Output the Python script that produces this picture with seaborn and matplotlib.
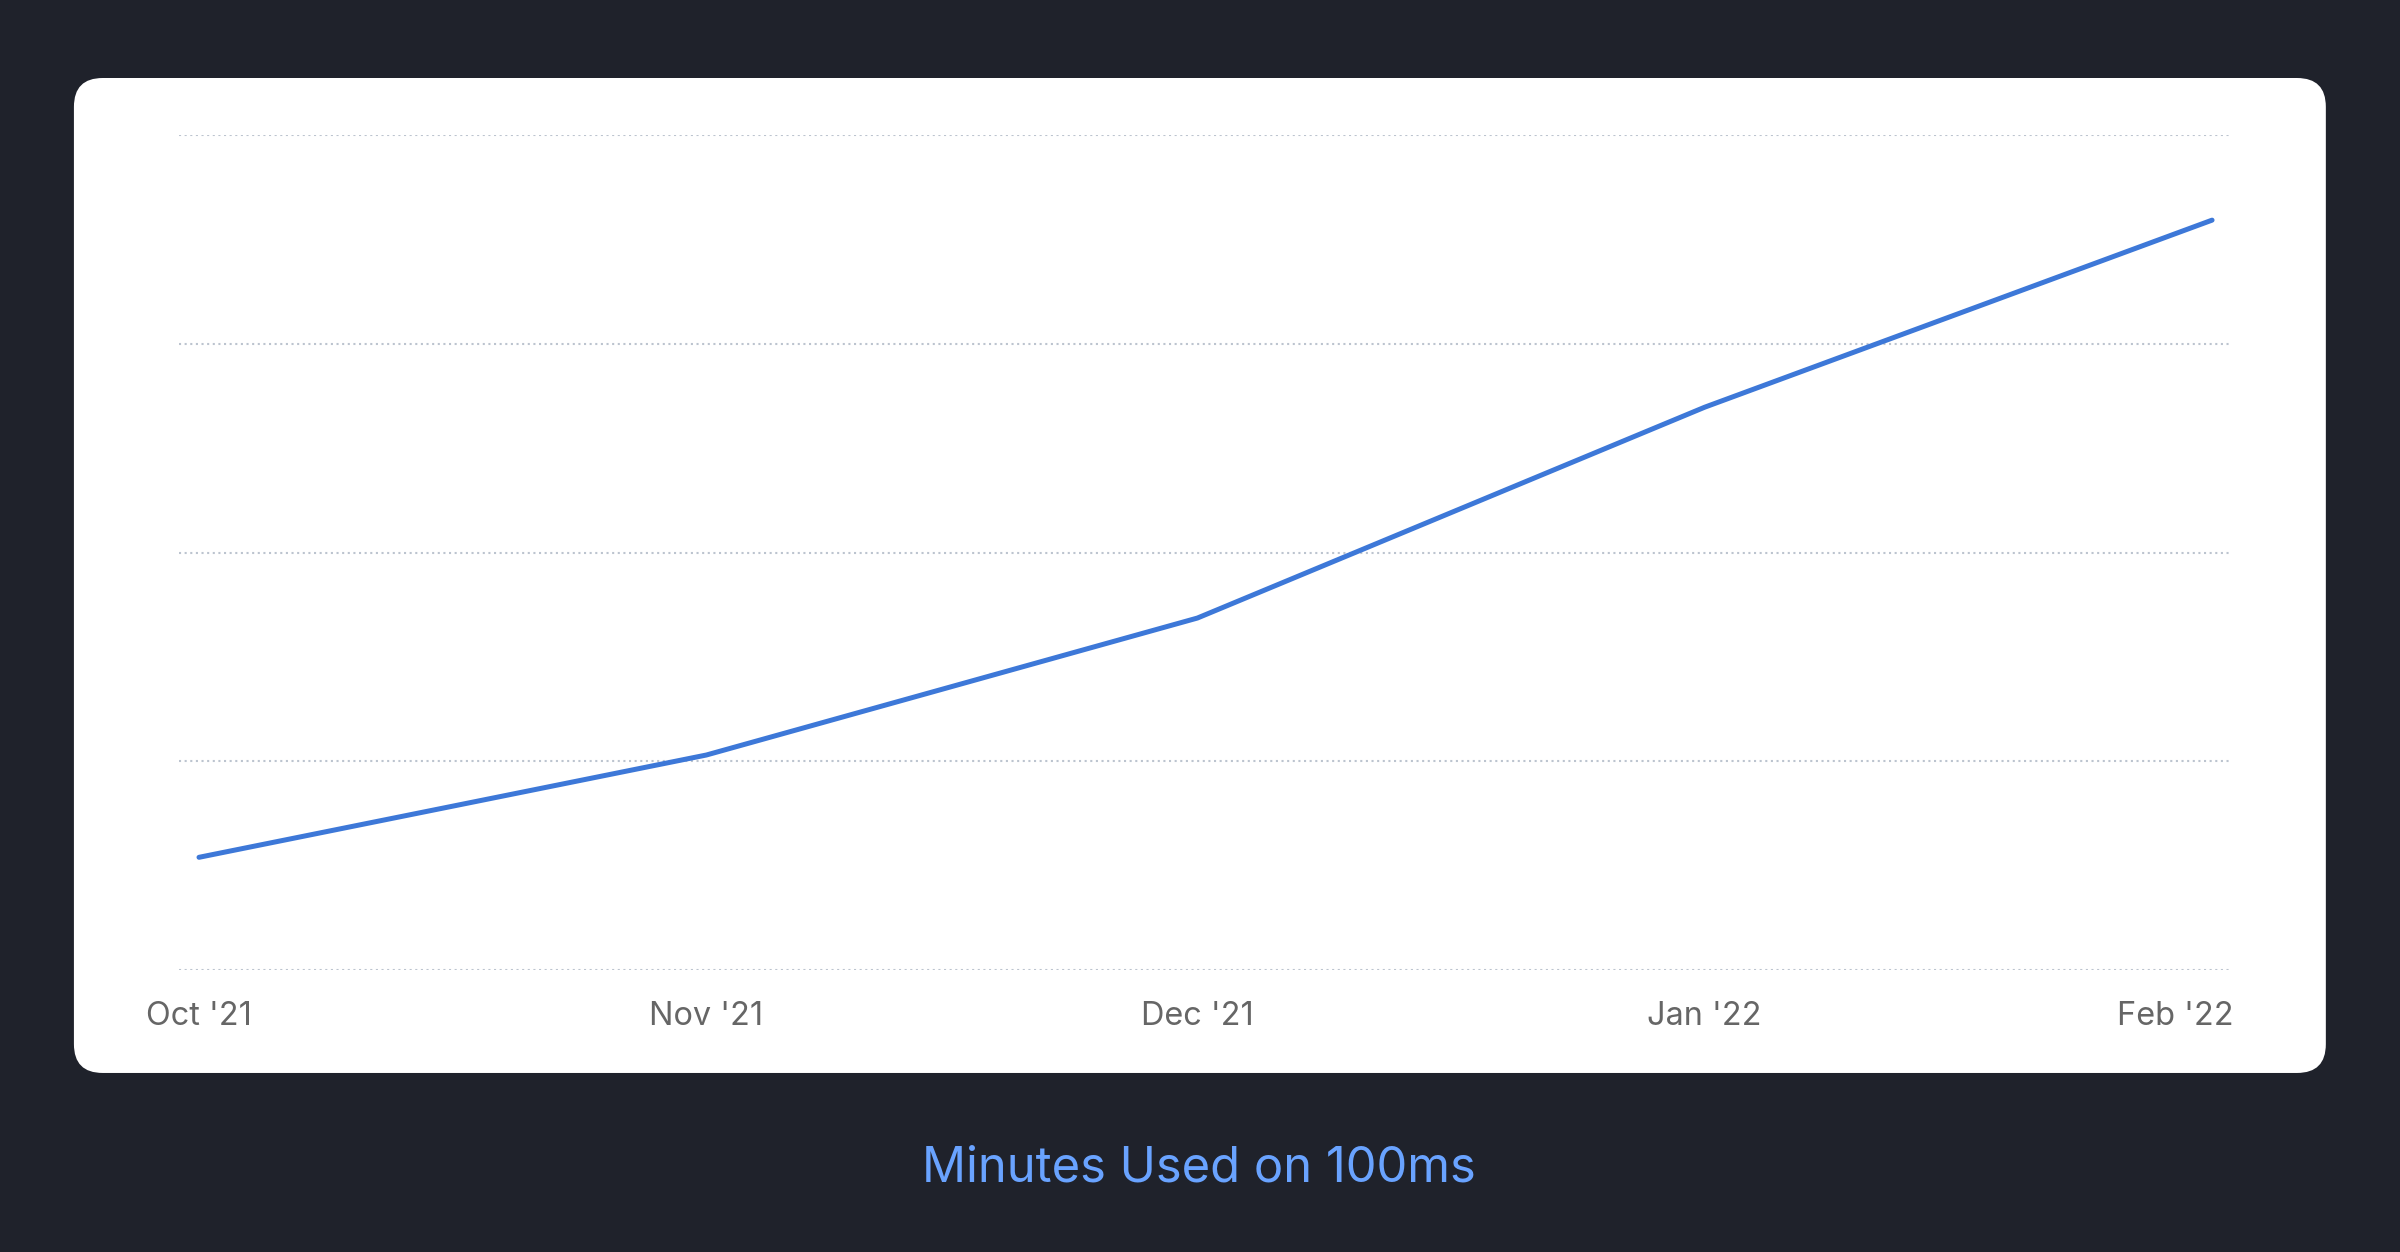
import matplotlib
matplotlib.use("Agg")
import matplotlib.pyplot as plt
import matplotlib.transforms as mtransforms
from matplotlib.patches import FancyBboxPatch
import seaborn as sns
import pandas as pd

# Dados (minutos usados por mês)
months = ["2021-10-01", "2021-11-01", "2021-12-01", "2022-01-01", "2022-02-01"]
month_labels = ["Oct '21", "Nov '21", "Dec '21", "Jan '22", "Feb '22"]
minutes = [13500, 25750, 42150, 67400, 89800]
grid_values = [0, 25000, 50000, 75000, 100000]

df = pd.DataFrame({"month": pd.to_datetime(months), "minutes": minutes})

sns.set_theme(style="white")
plt.rcParams["font.family"] = ["Inter", "DejaVu Sans"]

bg = "#1f222b"
fig = plt.figure(figsize=(12, 6.26), dpi=200)
fig.patch.set_facecolor(bg)

# Cartão branco com cantos arredondados
card = FancyBboxPatch((0.0308, 0.143), 0.9383, 0.7947,
                      boxstyle="round,pad=0,rounding_size=0.012",
                      transform=fig.transFigure, facecolor="white",
                      edgecolor="none", mutation_aspect=2400 / 1252,
                      zorder=-10)
fig.patches.append(card)

ax = fig.add_axes([0.0746, 0.2252, 0.855, 0.667])
ax.set_facecolor("none")
ax.set_zorder(5)

sns.lineplot(data=df, x="month", y="minutes", ax=ax, color="#3d78d8",
             linewidth=1.8, solid_capstyle="round", solid_joinstyle="round")

ax.set_xlim(pd.Timestamp("2021-10-01") - pd.Timedelta(days=1.22),
            pd.Timestamp("2022-02-01") + pd.Timedelta(days=1.16))
ax.set_ylim(0, 100000)
ax.set_yticks(grid_values)
ax.set_yticklabels([])
ax.yaxis.grid(True, color="#bcc4cf", linewidth=0.75, linestyle=(0, (1, 1.7)))
ax.xaxis.grid(False)
for s in ax.spines.values():
    s.set_visible(False)
ax.tick_params(axis="both", length=0)
ax.tick_params(axis="x", pad=11, labelsize=11.7, labelcolor="#666666")
ax.set_xticks(df["month"])
ax.set_xticklabels(month_labels)
ax.set_xlabel("")
ax.set_ylabel("")

# último rótulo alinhado à direita, na borda do eixo
last = ax.get_xticklabels()[-1]
last.set_horizontalalignment("right")
last.set_transform(last.get_transform() +
                   mtransforms.ScaledTranslation(22 / 200, 0, fig.dpi_scale_trans))

fig.text(0.4996, 0.0665, "Minutes Used on 100ms", color="#69a3ff",
         fontsize=17.6, ha="center", va="center")

fig.savefig("out.png", dpi=200, facecolor=bg)
